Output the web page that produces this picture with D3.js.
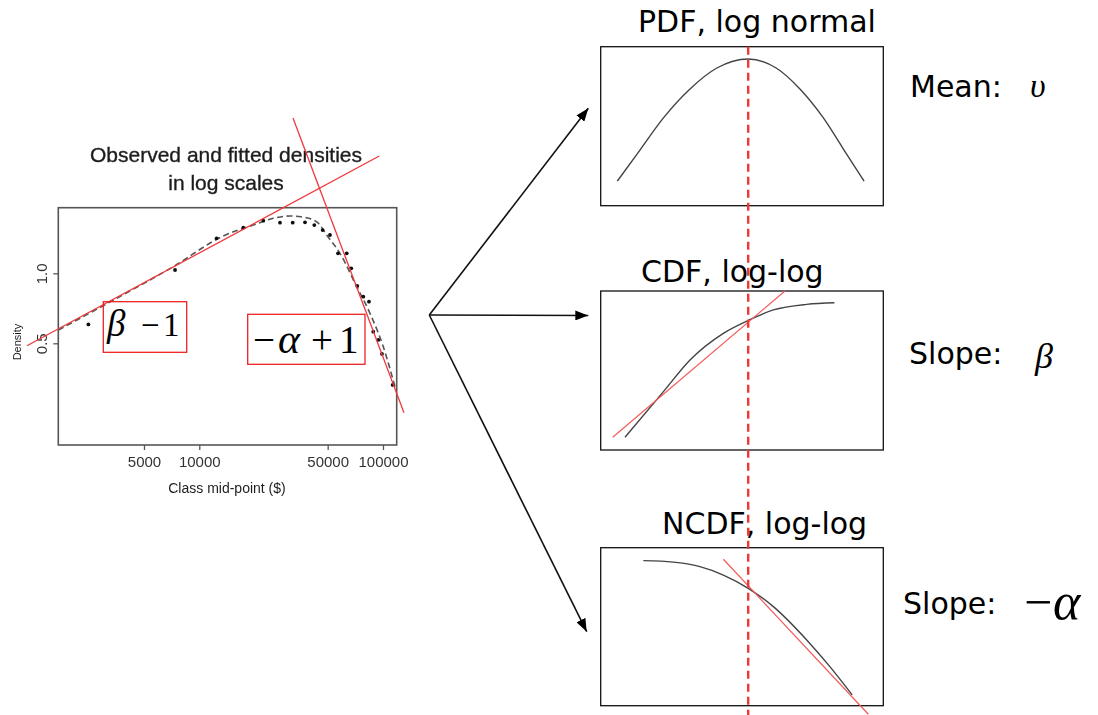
<!DOCTYPE html>
<html>
<head>
<meta charset="utf-8">
<script src="https://cdn.jsdelivr.net/npm/d3@7"></script>
<style>
  html, body { margin: 0; padding: 0; background: #fff; }
  svg { display: block; }
</style>
</head>
<body>
<script>
// ---------- Left panel: observed and fitted income densities (log-log) ----------
const obsIncome  = [2490, 7380, 12430, 17360, 22310, 27500, 32250, 37620, 42270, 46960, 51450,
                    56890, 63450, 67210, 72460, 78140, 83900, 88540, 94270, 98760, 112900];
const obsDensity = [0.603, 1.033, 1.414, 1.571, 1.684, 1.651, 1.651, 1.657, 1.613, 1.535, 1.461,
                    1.219, 1.219, 1.051, 0.882, 0.793, 0.755, 0.561, 0.517, 0.450, 0.331];
const fitIncome  = [1708, 3701, 7219, 13510, 19680, 25280, 31170, 37620, 44290, 49380, 58330,
                    71930, 84950, 100400, 116200];
const fitDensity = [0.570, 0.795, 1.068, 1.447, 1.613, 1.724, 1.764, 1.738, 1.646, 1.461, 1.219,
                    0.876, 0.673, 0.483, 0.325];
// straight-line asymptotes of the two tails
const lowTailIncome  = [1153, 95480];
const lowTailDensity = [0.488, 3.195];
const highTailIncome  = [32370, 130100];
const highTailDensity = [4.656, 0.2515];
const incomeTicks  = [5000, 10000, 50000, 100000];
const densityTicks = [0.5, 1.0];

// ---------- Right panels (shared log-income axis, arbitrary 0-100 units) ----------
const pdfX  = [5.9, 13.9, 22.2, 31.6, 41.1, 52.2, 62.1, 70.5, 78.8, 86.1, 93.2];
const pdfY  = [15.5, 35.0, 55.2, 73.4, 86.6, 92.3, 86.6, 73.4, 55.2, 35.0, 15.5];
const cdfX  = [8.6, 22.2, 31.6, 43.4, 52.2, 61.1, 72.9, 82.7];
const cdfY  = [8.0, 36.7, 56.6, 73.4, 81.5, 88.1, 91.6, 92.6];
const cdfTangentX = [4.25, 65.2];
const cdfTangentY = [8.0, 100];
const ncdfX = [15.1, 25.7, 35.1, 43.4, 52.2, 61.1, 72.9, 81.1, 89.0];
const ncdfY = [91.8, 90.9, 88.0, 82.7, 74.3, 62.7, 41.6, 24.7, 6.8];
const ncdfTangentX = [43.4, 94.7];
const ncdfTangentY = [92.7, -5.4];
const meanX = 52.2;

const panelTitles = ["PDF, log normal", "CDF, log-log", "NCDF, log-log"];

const W = 1098, H = 715;
const svg = d3.select("body").append("svg").attr("width", W).attr("height", H);

const defs = svg.append("defs");
defs.append("filter").attr("id", "soft")
  .append("feGaussianBlur").attr("stdDeviation", 0.45);
defs.append("marker")
  .attr("id", "head").attr("viewBox", "0 0 13 10")
  .attr("refX", 13).attr("refY", 5)
  .attr("markerWidth", 13).attr("markerHeight", 10)
  .attr("markerUnits", "userSpaceOnUse")
  .attr("orient", "auto")
  .append("path").attr("d", "M0,0 L13,5 L0,10 Z").attr("fill", "#000");

// ================= Left chart =================
const L = { left: 58.3, right: 396.7, top: 207.7, bottom: 445 };
const x = d3.scaleLog().domain([1708, 118770]).range([L.left, L.right]);
const y = d3.scaleLog().domain([0.1826, 1.915]).range([L.bottom, L.top]);

const scan = svg.append("g").attr("filter", "url(#soft)")
  .style("font-family", "'Liberation Sans', Arial, sans-serif").attr("fill", "#1e1e1e");

scan.append("rect")
  .attr("x", L.left).attr("y", L.top)
  .attr("width", L.right - L.left).attr("height", L.bottom - L.top)
  .attr("fill", "none").attr("stroke", "#555").attr("stroke-width", 1.6);

const xAxis = d3.axisBottom(x).tickValues(incomeTicks).tickFormat(d3.format("d"))
  .tickSize(5).tickPadding(6);
const gx = scan.append("g").attr("transform", `translate(0,${L.bottom})`).call(xAxis);
gx.select(".domain").remove();
gx.selectAll("line").attr("stroke", "#555").attr("stroke-width", 1.3);
gx.selectAll("text").attr("fill", "#333").style("font-size", "15px")
  .style("font-family", "'Liberation Sans', Arial, sans-serif");

const yAxis = d3.axisLeft(y).tickValues(densityTicks).tickFormat(d3.format(".1f"))
  .tickSize(5).tickPadding(0);
const gy = scan.append("g").attr("transform", `translate(${L.left},0)`).call(yAxis);
gy.select(".domain").remove();
gy.selectAll("line").attr("stroke", "#555").attr("stroke-width", 1.3);
gy.selectAll("text")
  .attr("fill", "#333").style("font-size", "15px")
  .style("font-family", "'Liberation Sans', Arial, sans-serif")
  .attr("x", null).attr("dy", null)
  .attr("text-anchor", "middle")
  .attr("transform", "translate(-11,0) rotate(-90)");

scan.append("text").attr("x", 226).attr("y", 162)
  .attr("text-anchor", "middle").style("font-size", "21px")
  .attr("stroke", "#1e1e1e").attr("stroke-width", 0.35)
  .text("Observed and fitted densities");
scan.append("text").attr("x", 226).attr("y", 190)
  .attr("text-anchor", "middle").style("font-size", "21px")
  .attr("stroke", "#1e1e1e").attr("stroke-width", 0.35)
  .text("in log scales");
scan.append("text").attr("x", 227).attr("y", 493)
  .attr("text-anchor", "middle").style("font-size", "14px")
  .text("Class mid-point ($)");
scan.append("text").attr("transform", "translate(21,342) rotate(-90)")
  .attr("text-anchor", "middle").style("font-size", "11px")
  .text("Density");

const fitPts = fitIncome.map((v, i) => [v, fitDensity[i]]);
scan.append("path")
  .attr("d", d3.line().x(d => x(d[0])).y(d => y(d[1])).curve(d3.curveMonotoneX)(fitPts))
  .attr("fill", "none").attr("stroke", "#555").attr("stroke-width", 1.6)
  .attr("stroke-dasharray", "6,3.5");

scan.selectAll("circle.obs")
  .data(obsIncome.map((v, i) => [v, obsDensity[i]]))
  .join("circle").attr("class", "obs")
  .attr("cx", d => x(d[0])).attr("cy", d => y(d[1])).attr("r", 1.9)
  .attr("fill", "#111");

const redLine = d3.line().x(d => x(d[0])).y(d => y(d[1]));
svg.append("path")
  .attr("d", redLine(lowTailIncome.map((v, i) => [v, lowTailDensity[i]])))
  .attr("stroke", "#f0383c").attr("stroke-width", 1.3).attr("fill", "none");
svg.append("path")
  .attr("d", redLine(highTailIncome.map((v, i) => [v, highTailDensity[i]])))
  .attr("stroke", "#f0383c").attr("stroke-width", 1.3).attr("fill", "none");

// slope annotations
const serif = "'Liberation Serif', 'Times New Roman', serif";
svg.append("rect").attr("x", 103.3).attr("y", 301.7).attr("width", 83.4).attr("height", 50.6)
  .attr("fill", "none").attr("stroke", "#ee2222").attr("stroke-width", 1.3);
const t1 = svg.append("text").attr("y", 336).style("font-family", serif).style("font-size", "33px").attr("fill", "#000");
t1.append("tspan").attr("x", 107).style("font-style", "italic").style("font-size", "37px").text("β");
t1.append("tspan").attr("x", 141).text("−");
t1.append("tspan").attr("x", 163).text("1");

svg.append("rect").attr("x", 247.7).attr("y", 314.3).attr("width", 117.3).attr("height", 50)
  .attr("fill", "none").attr("stroke", "#ee2222").attr("stroke-width", 1.3);
const t2 = svg.append("text").attr("y", 352.7).style("font-family", serif).style("font-size", "39px").attr("fill", "#000");
t2.append("tspan").attr("x", 253).text("−");
t2.append("tspan").attr("x", 278).style("font-style", "italic").style("font-size", "42px").text("α");
t2.append("tspan").attr("x", 311).text("+");
t2.append("tspan").attr("x", 339).text("1");

// ================= Arrows =================
const origin = [429.3, 315];
const tips = [[588.3, 108.3], [588.3, 315.5], [586.7, 631.7]];
svg.selectAll("line.arrow").data(tips).join("line").attr("class", "arrow")
  .attr("x1", origin[0]).attr("y1", origin[1])
  .attr("x2", d => d[0]).attr("y2", d => d[1])
  .attr("stroke", "#111").attr("stroke-width", 1.6)
  .attr("marker-end", "url(#head)");

// ================= Right panels =================
const P = { left: 600.7, right: 883.3 };
const boxes = [
  { top: 46.7, bottom: 205.7, titleX: 638, titleY: 32 },
  { top: 291, bottom: 450, titleX: 641, titleY: 282 },
  { top: 547.7, bottom: 705.7, titleX: 662, titleY: 534 }
];
const px = d3.scaleLinear().domain([0, 100]).range([P.left, P.right]);
const sans = "'DejaVu Sans', Verdana, sans-serif";

const curves = [
  { xs: pdfX, ys: pdfY },
  { xs: cdfX, ys: cdfY, tx: cdfTangentX, ty: cdfTangentY },
  { xs: ncdfX, ys: ncdfY, tx: ncdfTangentX, ty: ncdfTangentY }
];

boxes.forEach((b, i) => {
  const py = d3.scaleLinear().domain([0, 100]).range([b.bottom, b.top]);
  const g = svg.append("g");
  g.append("rect").attr("x", P.left).attr("y", b.top)
    .attr("width", P.right - P.left).attr("height", b.bottom - b.top)
    .attr("fill", "none").attr("stroke", "#111").attr("stroke-width", 1.3);
  g.append("text").attr("x", b.titleX).attr("y", b.titleY)
    .style("font-family", sans).style("font-size", "30px").attr("fill", "#000")
    .text(panelTitles[i]);
  const c = curves[i];
  const line = d3.line().x(d => px(d[0])).y(d => py(d[1]));
  g.append("path")
    .attr("d", line.curve(d3.curveMonotoneX)(c.xs.map((v, k) => [v, c.ys[k]])))
    .attr("fill", "none").attr("stroke", "#444").attr("stroke-width", 1.4);
  if (c.tx) {
    g.append("path")
      .attr("d", d3.line().x(d => px(d[0])).y(d => py(d[1]))(c.tx.map((v, k) => [v, c.ty[k]])))
      .attr("fill", "none").attr("stroke", "#f25a5a").attr("stroke-width", 1.2);
  }
});

// mean marker across all three panels
svg.append("line")
  .attr("x1", px(meanX)).attr("x2", px(meanX))
  .attr("y1", boxes[0].top).attr("y2", H)
  .attr("stroke", "#ee3838").attr("stroke-width", 2.4)
  .attr("stroke-dasharray", "8,5");

// ================= Parameter labels =================
const lab1 = svg.append("text").attr("y", 97).style("font-size", "30px").attr("fill", "#000");
lab1.append("tspan").attr("x", 910).style("font-family", sans).text("Mean:");
lab1.append("tspan").attr("x", 1030).style("font-family", serif).style("font-style", "italic")
  .style("font-size", "34px").text("υ");

const lab2 = svg.append("text").attr("y", 364).style("font-size", "30px").attr("fill", "#000");
lab2.append("tspan").attr("x", 909).style("font-family", sans).text("Slope:");
lab2.append("tspan").attr("x", 1035).attr("dy", 4).style("font-family", serif).style("font-style", "italic")
  .style("font-size", "36px").text("β");

const lab3 = svg.append("text").attr("y", 614).style("font-size", "30px").attr("fill", "#000");
lab3.append("tspan").attr("x", 903).style("font-family", sans).text("Slope:");
lab3.append("tspan").attr("x", 1024).attr("dy", 5).style("font-family", serif)
  .style("font-size", "50px").text("−");
lab3.append("tspan").attr("x", 1053).style("font-family", serif).style("font-style", "italic")
  .style("font-size", "52px").text("α");
</script>
</body>
</html>
